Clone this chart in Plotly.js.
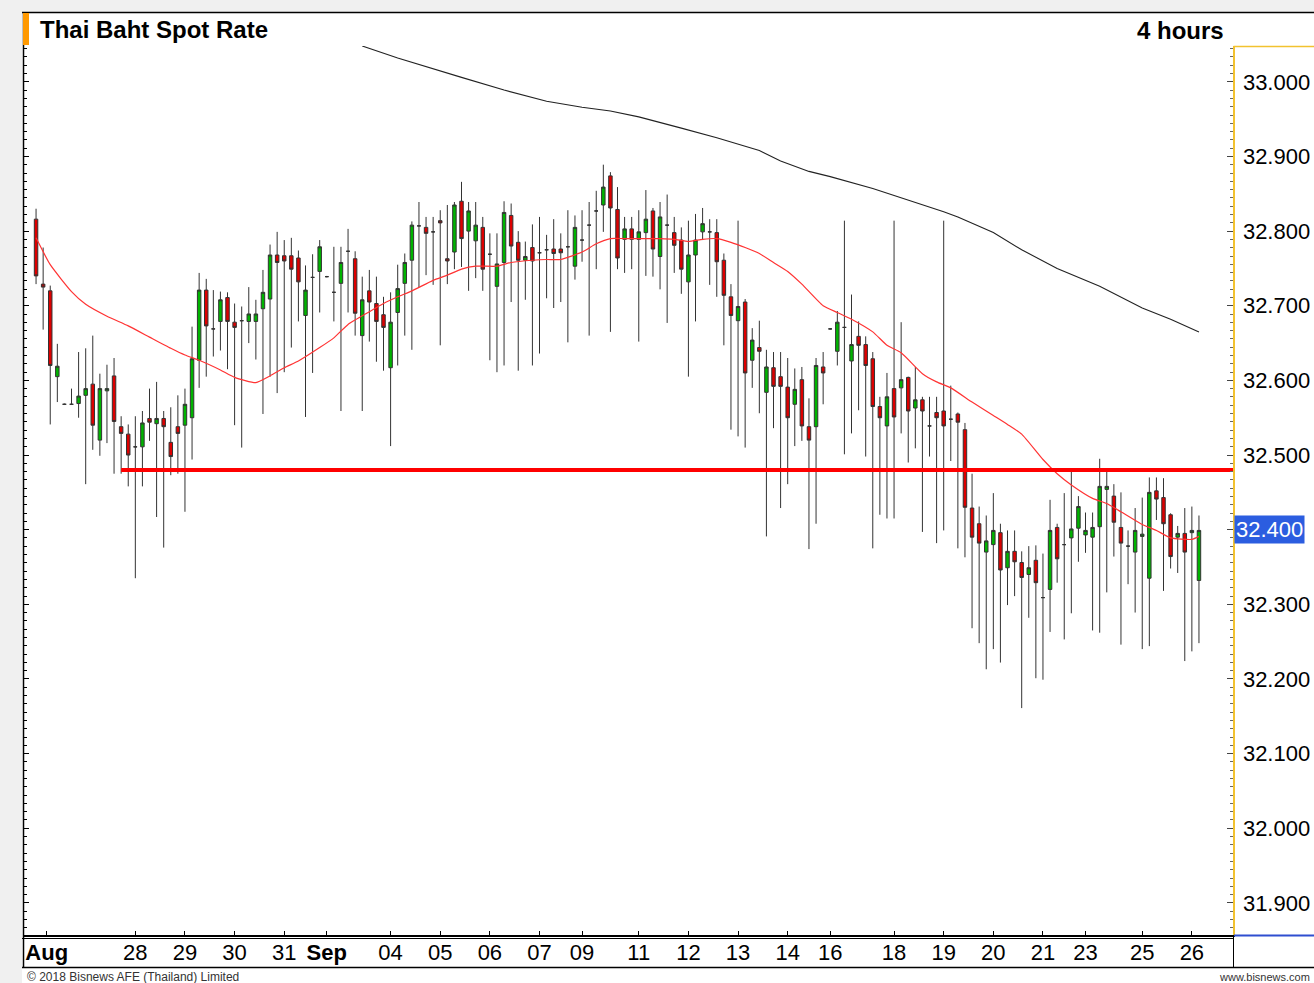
<!DOCTYPE html>
<html><head><meta charset="utf-8">
<script src="https://cdn.plot.ly/plotly-3.0.1.min.js"></script>
<style>html,body{margin:0;padding:0;background:#f0f0f0;overflow:hidden}#chart{width:1314px;height:983px}</style>
</head><body><div id="chart"></div>
<script>
// ---- data (4-hour candles, THB per USD) ----
const openP = [32.816,32.729,32.720,32.605,32.568,32.568,32.569,32.580,32.595,32.520,
 32.586,32.606,32.538,32.528,32.511,32.511,32.549,32.542,32.549,32.517,
 32.538,32.540,32.550,32.627,32.721,32.669,32.679,32.711,32.678,32.680,
 32.679,32.679,32.696,32.709,32.768,32.767,32.767,32.764,32.687,32.738,
 32.746,32.739,32.718,32.730,32.773,32.763,32.660,32.720,32.703,32.688,
 32.617,32.691,32.730,32.761,32.807,32.805,32.799,32.814,32.763,32.772,
 32.840,32.800,32.787,32.805,32.769,32.726,32.758,32.821,32.785,32.761,
 32.778,32.771,32.775,32.776,32.776,32.779,32.753,32.788,32.808,32.827,
 32.835,32.874,32.829,32.789,32.803,32.789,32.798,32.827,32.766,32.808,
 32.798,32.788,32.732,32.768,32.799,32.799,32.798,32.761,32.712,32.680,
 32.705,32.627,32.644,32.584,32.617,32.605,32.591,32.568,32.601,32.538,
 32.538,32.618,32.669,32.639,32.671,32.626,32.659,32.648,32.629,32.565,
 32.539,32.589,32.590,32.604,32.563,32.574,32.539,32.557,32.559,32.548,
 32.555,32.534,32.429,32.408,32.370,32.380,32.396,32.349,32.371,32.356,
 32.340,32.359,32.309,32.320,32.403,32.380,32.389,32.402,32.393,32.390,
 32.404,32.454,32.445,32.403,32.378,32.370,32.391,32.335,32.452,32.443,
 32.420,32.390,32.395,32.396,32.332];
const highP = [32.830,32.778,32.727,32.649,32.569,32.589,32.638,32.643,32.660,32.609,
 32.621,32.630,32.552,32.541,32.552,32.559,32.589,32.598,32.559,32.564,
 32.580,32.589,32.672,32.744,32.736,32.721,32.719,32.718,32.703,32.699,
 32.725,32.708,32.748,32.782,32.799,32.788,32.791,32.774,32.754,32.769,
 32.788,32.740,32.779,32.779,32.803,32.773,32.739,32.748,32.739,32.712,
 32.718,32.755,32.770,32.813,32.839,32.819,32.819,32.828,32.835,32.839,
 32.866,32.839,32.839,32.819,32.797,32.797,32.840,32.837,32.800,32.786,
 32.809,32.819,32.795,32.816,32.797,32.828,32.821,32.828,32.839,32.854,
 32.889,32.879,32.859,32.819,32.819,32.828,32.855,32.831,32.839,32.849,
 32.819,32.805,32.814,32.823,32.831,32.816,32.816,32.770,32.729,32.814,
 32.709,32.670,32.680,32.641,32.638,32.638,32.630,32.616,32.618,32.576,
 32.630,32.638,32.670,32.693,32.814,32.715,32.679,32.659,32.638,32.578,
 32.610,32.814,32.678,32.605,32.618,32.578,32.578,32.578,32.814,32.593,
 32.557,32.543,32.475,32.431,32.419,32.449,32.408,32.399,32.399,32.371,
 32.378,32.379,32.368,32.440,32.408,32.449,32.478,32.445,32.423,32.423,
 32.495,32.482,32.461,32.450,32.399,32.429,32.443,32.470,32.470,32.469,
 32.422,32.405,32.429,32.431,32.419];
const lowP = [32.729,32.668,32.541,32.571,32.567,32.567,32.550,32.461,32.507,32.499,
 32.516,32.475,32.475,32.458,32.335,32.458,32.519,32.417,32.376,32.473,
 32.475,32.424,32.494,32.590,32.605,32.632,32.640,32.615,32.540,32.510,
 32.650,32.628,32.555,32.605,32.583,32.611,32.644,32.679,32.551,32.610,
 32.691,32.738,32.679,32.559,32.691,32.660,32.559,32.652,32.625,32.613,
 32.512,32.620,32.660,32.641,32.725,32.741,32.728,32.647,32.729,32.749,
 32.752,32.720,32.737,32.720,32.627,32.611,32.620,32.705,32.613,32.708,
 32.620,32.636,32.710,32.697,32.705,32.651,32.735,32.759,32.660,32.749,
 32.799,32.665,32.749,32.744,32.749,32.652,32.740,32.739,32.722,32.677,
 32.744,32.716,32.605,32.679,32.788,32.728,32.712,32.647,32.534,32.525,
 32.510,32.590,32.556,32.391,32.536,32.429,32.461,32.512,32.519,32.374,
 32.408,32.568,32.668,32.620,32.501,32.529,32.560,32.498,32.375,32.420,
 32.415,32.415,32.529,32.490,32.509,32.397,32.498,32.382,32.399,32.492,
 32.375,32.363,32.268,32.248,32.213,32.240,32.222,32.299,32.311,32.161,
 32.282,32.201,32.199,32.263,32.329,32.253,32.288,32.357,32.369,32.265,
 32.262,32.316,32.364,32.246,32.327,32.289,32.240,32.244,32.413,32.318,
 32.348,32.342,32.224,32.237,32.248];
const closeP = [32.740,32.725,32.620,32.619,32.568,32.568,32.579,32.589,32.540,32.589,
 32.589,32.545,32.529,32.500,32.511,32.543,32.544,32.549,32.538,32.498,
 32.529,32.568,32.629,32.721,32.673,32.669,32.708,32.679,32.671,32.680,
 32.689,32.689,32.718,32.768,32.758,32.760,32.749,32.732,32.721,32.738,
 32.779,32.739,32.718,32.758,32.773,32.690,32.708,32.705,32.679,32.671,
 32.678,32.723,32.758,32.808,32.807,32.797,32.799,32.811,32.760,32.835,
 32.790,32.827,32.808,32.749,32.769,32.756,32.825,32.780,32.761,32.766,
 32.760,32.771,32.775,32.770,32.771,32.779,32.805,32.788,32.808,32.827,
 32.859,32.831,32.764,32.803,32.789,32.799,32.816,32.776,32.819,32.808,
 32.781,32.749,32.768,32.788,32.810,32.799,32.759,32.714,32.687,32.699,
 32.610,32.654,32.639,32.618,32.592,32.592,32.550,32.588,32.539,32.520,
 32.620,32.610,32.669,32.678,32.671,32.648,32.647,32.620,32.565,32.550,
 32.578,32.551,32.601,32.559,32.574,32.559,32.539,32.550,32.539,32.548,
 32.544,32.430,32.390,32.382,32.385,32.399,32.346,32.371,32.357,32.336,
 32.349,32.329,32.309,32.399,32.361,32.380,32.401,32.431,32.399,32.403,
 32.458,32.458,32.410,32.382,32.378,32.399,32.394,32.450,32.441,32.408,
 32.364,32.395,32.370,32.399,32.399];

// short moving average (red), sampled at candle indices
const maShortIdx = [0,2,5,7,10,13,16,19,21,23,26,28,31,33,35,37,40,42,44,47,49,51,53,56,58,60,62,65,67,70,72,74,77,79,81,83,88,90,92,94,96,98,100,102,104,106,108,111,113,115,118,120,122,125,127,129,132,135,137,139,142,144,146,149,151,153,156,158,160,163,164];
const maShortVal = [32.791,32.755,32.719,32.702,32.686,32.673,32.658,32.643,32.634,32.627,32.614,32.604,32.597,32.606,32.617,32.626,32.644,32.657,32.675,32.692,32.703,32.712,32.720,32.734,32.741,32.749,32.753,32.753,32.758,32.761,32.762,32.762,32.772,32.783,32.790,32.790,32.790,32.789,32.786,32.789,32.790,32.785,32.778,32.770,32.758,32.746,32.729,32.700,32.691,32.682,32.665,32.647,32.637,32.609,32.598,32.590,32.571,32.553,32.541,32.528,32.494,32.475,32.460,32.442,32.435,32.424,32.407,32.399,32.389,32.387,32.391];

// long moving average (black)
const maLongIdx = [46,51,60,66,72,77,81,85,91,96,102,105,109,112,118,123,128,130,135,139,144,150,156,160,164];
const maLongVal = [33.048,33.032,33.006,32.989,32.974,32.966,32.961,32.953,32.938,32.925,32.908,32.894,32.880,32.873,32.857,32.842,32.826,32.819,32.798,32.775,32.750,32.726,32.697,32.682,32.665];

// support level and last price
const supportStartIdx = 12;
const supportLevel = 32.48;
const lastPrice = 32.400;

// axis labels
const tickIdx = [1.5,14,21,28,35,41,50,57,64,71,77,85,92,99,106,112,121,128,135,142,148,156,163];
const tickText = ['<b>Aug</b>','28','29','30','31','<b>Sep</b>','04','05','06','07','09','11','12','13','14','16','18','19','20','21','23','25','26'];
const priceTicks = [31.9,32.0,32.1,32.2,32.3,32.4,32.5,32.6,32.7,32.8,32.9,33.0];

const chartTitle = 'Thai Baht Spot Rate';
const periodLabel = '4 hours';
const footerLeft = '\u00a9 2018 Bisnews AFE (Thailand) Limited';
const footerRight = 'www.bisnews.com';

// ---- layout geometry ----
const W = 1314, H = 983;
const M = {l: 24, r: 81, t: 46, b: 48};
const PW = W - M.l - M.r, PH = H - M.t - M.b;
const px = x => (x - M.l) / PW;          // page pixel -> paper x
const py = y => (H - M.b - y) / PH;      // page pixel -> paper y
const xRange = [-1.7, 168.8];
const yRange = [31.857, 33.048];
const FONT = 'Liberation Sans, Arial, sans-serif';

const idx = openP.map((_, i) => i);
const priceTickText = priceTicks.map(v => Math.abs(v - lastPrice) < 1e-9 ? '' : v.toFixed(3));

const traces = [
  {
    type: 'candlestick', x: idx, open: openP, high: highP, low: lowP, close: closeP,
    increasing: {line: {color: '#333333', width: 1}, fillcolor: '#00b400'},
    decreasing: {line: {color: '#333333', width: 1}, fillcolor: '#dd0000'},
    whiskerwidth: 0, hoverinfo: 'skip', showlegend: false
  },
  {type: 'scatter', mode: 'lines', x: maShortIdx, y: maShortVal,
   line: {color: '#ff3333', width: 1.2, shape: 'spline', smoothing: 0.5}, hoverinfo: 'skip', showlegend: false},
  {type: 'scatter', mode: 'lines', x: maLongIdx, y: maLongVal,
   line: {color: '#222222', width: 1.1, shape: 'linear'}, hoverinfo: 'skip', showlegend: false},
  {type: 'scatter', mode: 'lines', x: [supportStartIdx, xRange[1]], y: [supportLevel, supportLevel],
   line: {color: '#ff0000', width: 4}, hoverinfo: 'skip', showlegend: false},
  {type: 'scatter', mode: 'lines', x: [0], y: [lastPrice], yaxis: 'y2', line: {width: 0}, hoverinfo: 'skip', showlegend: false}
];

const shapes = [
  {type: 'rect', xref: 'paper', yref: 'paper', x0: px(22), x1: px(W + 5), y0: py(H + 5), y1: py(12),
   fillcolor: '#ffffff', line: {width: 0}, layer: 'below'},
  {type: 'line', xref: 'paper', yref: 'paper', x0: px(22), x1: px(W + 5), y0: py(12.5), y1: py(12.5), line: {color: '#000', width: 1.5}},
  {type: 'line', xref: 'paper', yref: 'paper', x0: px(23.5), x1: px(23.5), y0: py(967), y1: py(12), line: {color: '#000', width: 1.5}},
  {type: 'line', xref: 'paper', yref: 'paper', x0: px(22), x1: px(W + 5), y0: py(967.5), y1: py(967.5), line: {color: '#000', width: 1.5}},
  {type: 'line', xref: 'paper', yref: 'paper', x0: px(22), x1: px(1233), y0: py(938.5), y1: py(938.5), line: {color: '#000', width: 1}},
  {type: 'line', xref: 'paper', yref: 'paper', x0: px(1233.5), x1: px(1233.5), y0: py(967), y1: py(935), line: {color: '#000', width: 1}},
  {type: 'line', xref: 'paper', yref: 'paper', x0: px(1234), x1: px(W + 5), y0: py(935.5), y1: py(935.5), line: {color: '#2f4fd0', width: 2}},
  {type: 'line', xref: 'paper', yref: 'paper', x0: px(1233.5), x1: px(W + 5), y0: py(46.5), y1: py(46.5), line: {color: '#f2c230', width: 1.5}},
  {type: 'rect', xref: 'paper', yref: 'paper', x0: px(23), x1: px(29), y0: py(45), y1: py(13),
   fillcolor: '#ff9900', line: {width: 0}}
];

const annotations = [
  {xref: 'paper', yref: 'paper', x: px(1226), y: py(30), xanchor: 'right', yanchor: 'middle',
   text: '<b>' + periodLabel + '</b>', showarrow: false, font: {family: FONT, size: 24, color: '#000'}},
  {xref: 'paper', yref: 'y', x: 1, y: lastPrice, xanchor: 'left', yanchor: 'middle', xshift: 1,
   text: lastPrice.toFixed(3), showarrow: false, bgcolor: '#2b5de0', borderpad: 1,
   font: {family: FONT, size: 22, color: '#ffffff'}},
  {xref: 'paper', yref: 'paper', x: px(25), y: py(977), xanchor: 'left', yanchor: 'middle',
   text: footerLeft, showarrow: false, font: {family: FONT, size: 12, color: '#333'}},
  {xref: 'paper', yref: 'paper', x: px(1312), y: py(977), xanchor: 'right', yanchor: 'middle',
   text: footerRight, showarrow: false, font: {family: FONT, size: 11, color: '#333'}}
];

const layout = {
  width: W, height: H, margin: M,
  paper_bgcolor: '#f0f0f0', plot_bgcolor: '#ffffff',
  showlegend: false,
  title: {text: '<b>' + chartTitle + '</b>', font: {family: FONT, size: 24, color: '#000'},
          xref: 'container', x: 40 / W, xanchor: 'left', yref: 'container', y: 1 - 30 / H, yanchor: 'middle'},
  xaxis: {
    range: xRange, rangeslider: {visible: false}, fixedrange: true,
    tickmode: 'array', tickvals: tickIdx, ticktext: tickText,
    ticks: 'inside', ticklen: 4, tickcolor: '#000', tickwidth: 1,
    showline: true, linecolor: '#000', linewidth: 2,
    showgrid: false, zeroline: false,
    tickfont: {family: FONT, size: 22, color: '#000'}, ticklabelstandoff: -3
  },
  yaxis: {
    range: yRange, side: 'right', fixedrange: true,
    tickmode: 'array', tickvals: priceTicks, ticktext: priceTickText,
    ticks: 'inside', ticklen: 6, tickcolor: '#444', tickwidth: 1,
    minor: {dtick: 0.1 / 9, tick0: 0, ticks: 'inside', ticklen: 3, tickcolor: '#666', showgrid: false},
    showline: true, linecolor: '#f2c230', linewidth: 1.5,
    showgrid: false, zeroline: false,
    tickfont: {family: FONT, size: 22, color: '#000'}, ticklabelstandoff: 4
  },
  yaxis2: {
    range: yRange, overlaying: 'y', side: 'left', fixedrange: true,
    dtick: 0.1, tick0: 0, showticklabels: false,
    ticks: 'inside', ticklen: 5, tickcolor: '#000',
    minor: {dtick: 0.1 / 9, tick0: 0, ticks: 'inside', ticklen: 3, tickcolor: '#000', showgrid: false},
    showline: true, linecolor: '#000', linewidth: 1.5,
    showgrid: false, zeroline: false
  },
  shapes: shapes,
  annotations: annotations
};

Plotly.newPlot('chart', traces, layout, {staticPlot: true, displayModeBar: false});
</script>
</body></html>
